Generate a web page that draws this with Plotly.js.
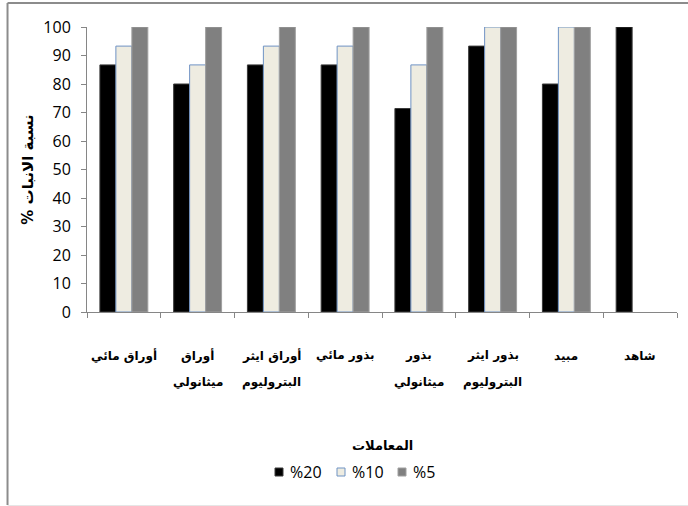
<!DOCTYPE html>
<html>
<head>
<meta charset="utf-8">
<script src="https://cdn.plot.ly/plotly-3.0.1.min.js"></script>
<style>
  html, body { margin: 0; padding: 0; background: #ffffff; }
  #chart { width: 688px; height: 506px; }
</style>
</head>
<body>
<div id="chart"></div>
<script>
// Treatments (two-line labels under each group)
const categories = [
  'أوراق مائي', 'أوراق ميثانولي', 'أوراق ايثر البتروليوم', 'بذور مائي',
  'بذور ميثانولي', 'بذور ايثر البتروليوم', 'مبيد', 'شاهد'
];
const labelLine1 = ['أوراق مائي', 'أوراق', 'أوراق ايثر', 'بذور مائي', 'بذور', 'بذور ايثر', 'مبيد', 'شاهد'];
const labelLine2 = ['', 'ميثانولي', 'البتروليوم', '', 'ميثانولي', 'البتروليوم', '', ''];

// Germination percentage for each concentration
const seriesNames = ['%20', '%10', '%5'];
const conc20 = [86.7, 80, 86.7, 86.7, 71.4, 93.3, 80, 100];
const conc10 = [93.3, 86.7, 93.3, 93.3, 86.7, 100, 100, null];
const conc5  = [100, 100, 100, 100, 100, 100, 100, null];

const yTicks = [0, 10, 20, 30, 40, 50, 60, 70, 80, 90, 100];

// RLM keeps the trailing % on the right-to-left side of the title
const axisTitleY = 'نسبة الانبات %\u200F';
const axisTitleX = 'المعاملات';

const fills = ['#000000', '#EEECE1', '#808080'];
const outlines = ['#3a3a3a', '#6f93c4', '#a0a0a0'];
const values = [conc20, conc10, conc5];

const traces = values.map((v, i) => ({
  type: 'bar',
  name: seriesNames[i],
  x: categories,
  y: v,
  marker: { color: fills[i], line: { color: outlines[i], width: 1 } },
  showlegend: false,
  hoverinfo: 'x+y'
}));

const arabicFont = { family: 'DejaVu Sans, Arial, sans-serif', size: 12, color: '#000000' };

// Category labels drawn at each category's position on the x axis
const annotations = [];
categories.forEach((c, i) => {
  annotations.push({
    x: c, xref: 'x', y: -0.154, yref: 'paper', yanchor: 'middle', xanchor: 'center',
    text: '<b>' + labelLine1[i] + '</b>', showarrow: false, font: arabicFont
  });
  if (labelLine2[i]) {
    annotations.push({
      x: c, xref: 'x', y: -0.247, yref: 'paper', yanchor: 'middle', xanchor: 'center',
      text: '<b>' + labelLine2[i] + '</b>', showarrow: false, font: arabicFont
    });
  }
});

// x-axis title
annotations.push({
  x: 0.5, xref: 'paper', y: -0.47, yref: 'paper', xanchor: 'center', yanchor: 'middle',
  text: '<b>' + axisTitleX + '</b>', showarrow: false,
  font: { family: 'DejaVu Sans, Arial, sans-serif', size: 13, color: '#000000' }
});

// Outer frame of the chart area
const frameColor = '#8c8c8c';
const shapes = [
  { type: 'line', xref: 'paper', yref: 'paper', x0: -0.1347, x1: -0.1347, y0: 1.0842, y1: -0.677,
    line: { color: frameColor, width: 2 } },
  { type: 'line', xref: 'paper', yref: 'paper', x0: -0.1347, x1: 1.03, y0: 1.0842, y1: 1.0842,
    line: { color: frameColor, width: 2 } },
  { type: 'line', xref: 'paper', yref: 'paper', x0: -0.1347, x1: 1.03, y0: -0.6789, y1: -0.6789,
    line: { color: '#e6e6e6', width: 1 } }
];

// Legend row: small swatch followed by the series name
const plotW = 590, plotH = 285, plotL = 87, plotB = 312;
const px2x = px => (px - plotL) / plotW;
const px2y = py => (plotB - py) / plotH;
const legendSwatchLeft = [275, 337, 398];
const legendRowY = 472;
seriesNames.forEach((name, i) => {
  const x0 = legendSwatchLeft[i];
  shapes.push({
    type: 'rect', xref: 'paper', yref: 'paper',
    x0: px2x(x0), x1: px2x(x0 + 8), y0: px2y(legendRowY - 4), y1: px2y(legendRowY + 4),
    fillcolor: fills[i], line: { color: outlines[i], width: 1 }
  });
  annotations.push({
    x: px2x(x0 + 13), xref: 'paper', y: px2y(legendRowY), yref: 'paper',
    xanchor: 'left', yanchor: 'middle', showarrow: false, text: name,
    font: { family: 'Open Sans, Arial, sans-serif', size: 16, color: '#000000' }
  });
});

const layout = {
  width: 688,
  height: 506,
  margin: { l: 87, r: 11, t: 27, b: 194 },
  paper_bgcolor: '#ffffff',
  plot_bgcolor: '#ffffff',
  barmode: 'group',
  bargap: 0.35,
  bargroupgap: 0,
  showlegend: false,
  xaxis: {
    type: 'category',
    showticklabels: false,
    ticks: 'outside',
    tickson: 'boundaries',
    ticklen: 5,
    tickcolor: '#868686',
    showline: true,
    linecolor: '#868686',
    linewidth: 1,
    showgrid: false,
    zeroline: false,
    title: { text: '' }
  },
  yaxis: {
    range: [0, 100],
    tickvals: yTicks,
    ticktext: yTicks.map(String),
    ticks: 'outside',
    ticklen: 5,
    ticklabelstandoff: 7,
    tickcolor: '#868686',
    showline: true,
    linecolor: '#868686',
    linewidth: 1,
    showgrid: false,
    zeroline: false,
    tickfont: { family: 'Open Sans, Arial, sans-serif', size: 16, color: '#000000' },
    title: {
      text: '<b>' + axisTitleY + '</b>',
      standoff: 6,
      font: { family: 'DejaVu Sans, Arial, sans-serif', size: 15, color: '#000000' }
    }
  },
  annotations: annotations,
  shapes: shapes
};

Plotly.newPlot('chart', traces, layout, { displayModeBar: false, staticPlot: true });
</script>
</body>
</html>
